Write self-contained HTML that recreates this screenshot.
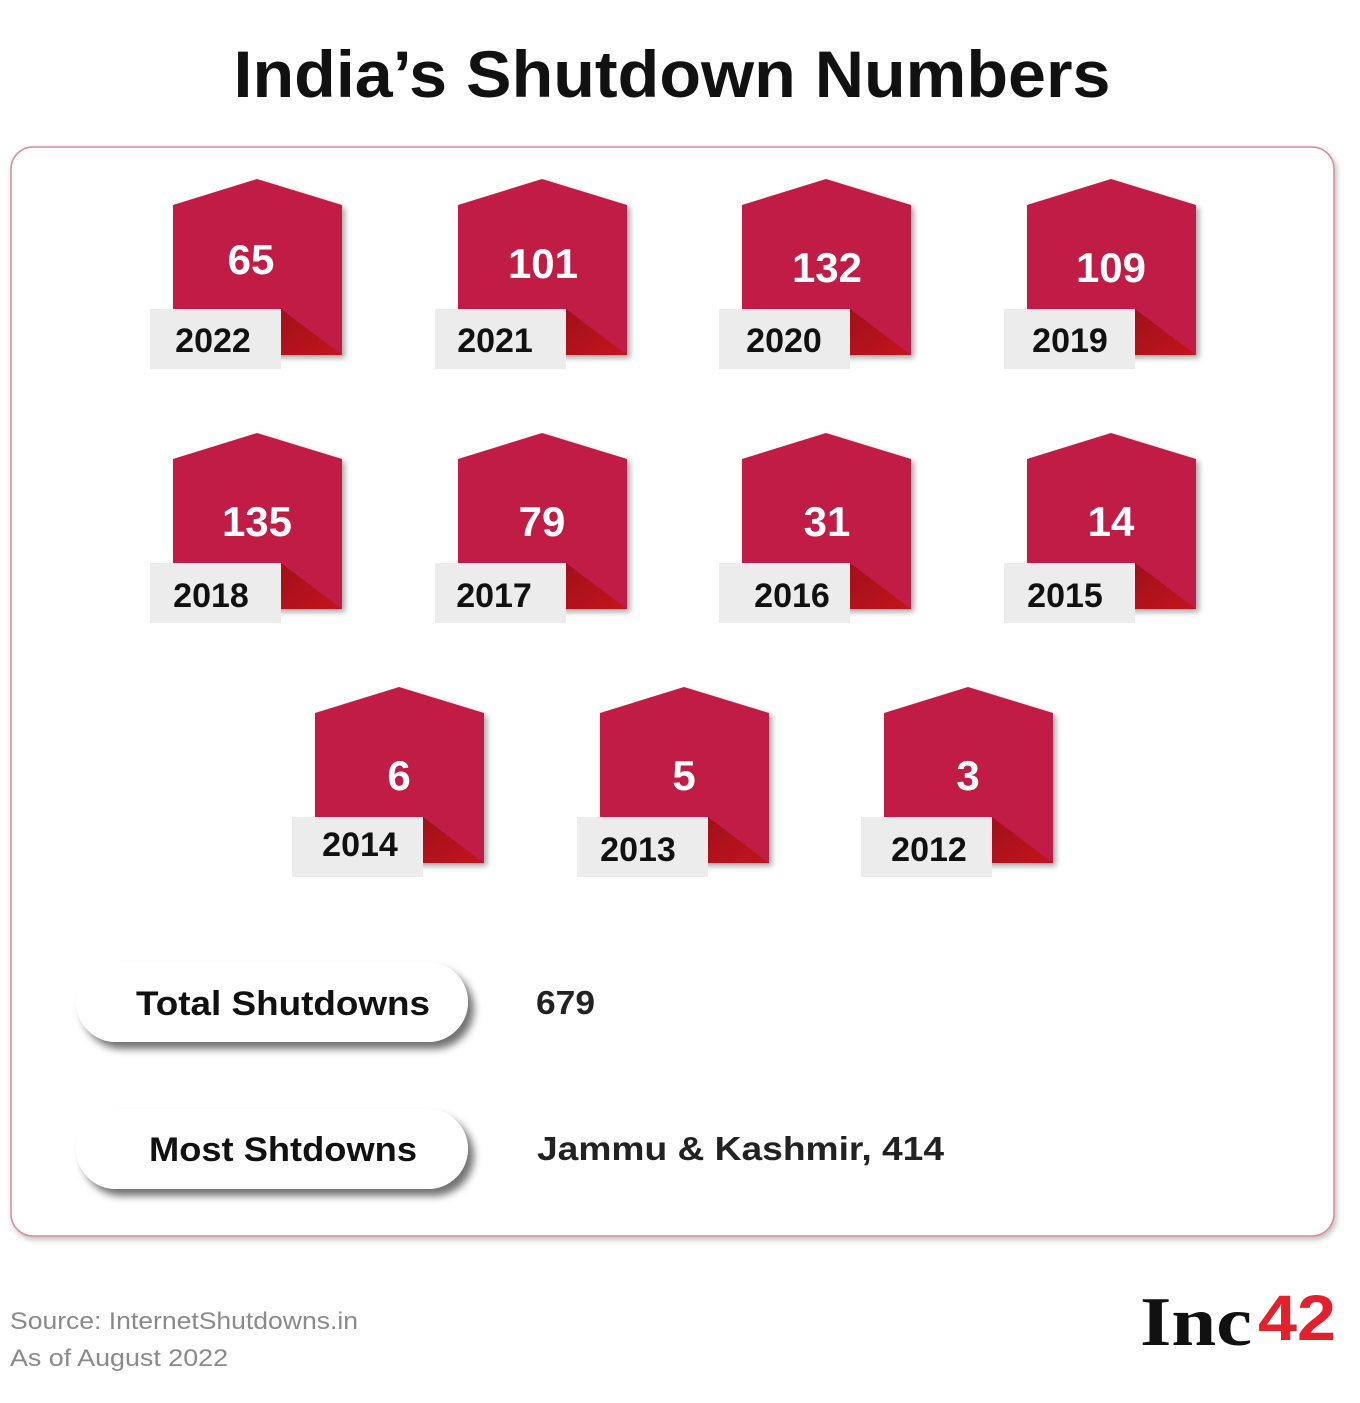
<!DOCTYPE html>
<html><head><meta charset="utf-8"><style>
html,body{margin:0;padding:0;background:#fff;}
svg{display:block;}
text{font-family:"Liberation Sans",sans-serif;font-weight:bold;}
</style></head><body>
<svg width="1360" height="1403" viewBox="0 0 1360 1403" xmlns="http://www.w3.org/2000/svg">
<defs>
<filter id="sh" x="-20%" y="-20%" width="150%" height="150%"><feDropShadow dx="3" dy="3" stdDeviation="3" flood-color="#000" flood-opacity="0.35"/></filter>
<filter id="sh2" x="-10%" y="-30%" width="130%" height="180%"><feDropShadow dx="6" dy="7" stdDeviation="4" flood-color="#000" flood-opacity="0.55"/></filter>
<filter id="sh3" x="-5%" y="-5%" width="110%" height="110%"><feDropShadow dx="2" dy="3" stdDeviation="3" flood-color="#000" flood-opacity="0.25"/></filter>
<linearGradient id="tg" x1="0" y1="0" x2="1" y2="1"><stop offset="0" stop-color="#a0101a"/><stop offset="1" stop-color="#c4141c"/></linearGradient>
<g id="tile">
<polygon points="0,26 84,0 169,26 169,176 0,176" fill="#c11b44" filter="url(#sh)"/>
<polygon points="108,130 108,176 169,176" fill="url(#tg)"/>
<rect x="-23" y="130" width="131" height="60" fill="#ececec"/>
</g>
</defs>
<text x="672" y="97" text-anchor="middle" font-size="66" textLength="877" lengthAdjust="spacingAndGlyphs" fill="#111">India’s Shutdown Numbers</text>
<rect x="11" y="147" width="1323" height="1089" rx="22" fill="#fff" stroke="#d88a9c" stroke-width="1.5" filter="url(#sh3)"/>

<g font-size="42" fill="#fff" text-anchor="middle">
</g>
<!-- row1 -->
<g transform="translate(173,179)"><use href="#tile"/><text x="78" y="95" font-size="42" fill="#fff" text-anchor="middle">65</text><text x="40" y="173" font-size="34" fill="#111" text-anchor="middle">2022</text></g>
<g transform="translate(458,179)"><use href="#tile"/><text x="85" y="99" font-size="42" fill="#fff" text-anchor="middle">101</text><text x="37" y="173" font-size="34" fill="#111" text-anchor="middle">2021</text></g>
<g transform="translate(742,179)"><use href="#tile"/><text x="85" y="103" font-size="42" fill="#fff" text-anchor="middle">132</text><text x="42" y="173" font-size="34" fill="#111" text-anchor="middle">2020</text></g>
<g transform="translate(1027,179)"><use href="#tile"/><text x="84" y="103" font-size="42" fill="#fff" text-anchor="middle">109</text><text x="43" y="173" font-size="34" fill="#111" text-anchor="middle">2019</text></g>
<!-- row2 -->
<g transform="translate(173,433)"><use href="#tile"/><text x="84" y="103" font-size="42" fill="#fff" text-anchor="middle">135</text><text x="38" y="174" font-size="34" fill="#111" text-anchor="middle">2018</text></g>
<g transform="translate(458,433)"><use href="#tile"/><text x="84" y="103" font-size="42" fill="#fff" text-anchor="middle">79</text><text x="36" y="174" font-size="34" fill="#111" text-anchor="middle">2017</text></g>
<g transform="translate(742,433)"><use href="#tile"/><text x="85" y="103" font-size="42" fill="#fff" text-anchor="middle">31</text><text x="50" y="174" font-size="34" fill="#111" text-anchor="middle">2016</text></g>
<g transform="translate(1027,433)"><use href="#tile"/><text x="84" y="103" font-size="42" fill="#fff" text-anchor="middle">14</text><text x="38" y="174" font-size="34" fill="#111" text-anchor="middle">2015</text></g>
<!-- row3 -->
<g transform="translate(315,687)"><use href="#tile"/><text x="84" y="103" font-size="42" fill="#fff" text-anchor="middle">6</text><text x="45" y="169" font-size="34" fill="#111" text-anchor="middle">2014</text></g>
<g transform="translate(600,687)"><use href="#tile"/><text x="84" y="103" font-size="42" fill="#fff" text-anchor="middle">5</text><text x="38" y="174" font-size="34" fill="#111" text-anchor="middle">2013</text></g>
<g transform="translate(884,687)"><use href="#tile"/><text x="84" y="103" font-size="42" fill="#fff" text-anchor="middle">3</text><text x="45" y="174" font-size="34" fill="#111" text-anchor="middle">2012</text></g>

<rect x="76" y="962" width="392" height="80" rx="40" fill="#fff" filter="url(#sh2)"/>
<text x="283" y="1015" text-anchor="middle" font-size="34" textLength="294" lengthAdjust="spacingAndGlyphs" fill="#111">Total Shutdowns</text>
<text x="536" y="1014" font-size="33" fill="#222" textLength="59" lengthAdjust="spacingAndGlyphs">679</text>
<rect x="76" y="1109" width="392" height="80" rx="40" fill="#fff" filter="url(#sh2)"/>
<text x="283" y="1161" text-anchor="middle" font-size="34" textLength="268" lengthAdjust="spacingAndGlyphs" fill="#111">Most Shtdowns</text>
<text x="537" y="1160" font-size="33" fill="#222" textLength="407" lengthAdjust="spacingAndGlyphs">Jammu &amp; Kashmir, 414</text>

<text x="10" y="1329" font-size="24" font-weight="normal" style="font-weight:normal" fill="#8a8a8a" textLength="348" lengthAdjust="spacingAndGlyphs">Source: InternetShutdowns.in</text>
<text x="10" y="1366" font-size="24" style="font-weight:normal" fill="#8a8a8a" textLength="218" lengthAdjust="spacingAndGlyphs">As of August 2022</text>

<text x="1140" y="1345" font-family="Liberation Serif" style="font-family:'Liberation Serif',serif" font-size="70" fill="#111" textLength="112" lengthAdjust="spacingAndGlyphs">Inc</text>
<text x="1258" y="1340" font-size="64" fill="#e3202b" textLength="78" lengthAdjust="spacingAndGlyphs">42</text>
</svg>
</body></html>
